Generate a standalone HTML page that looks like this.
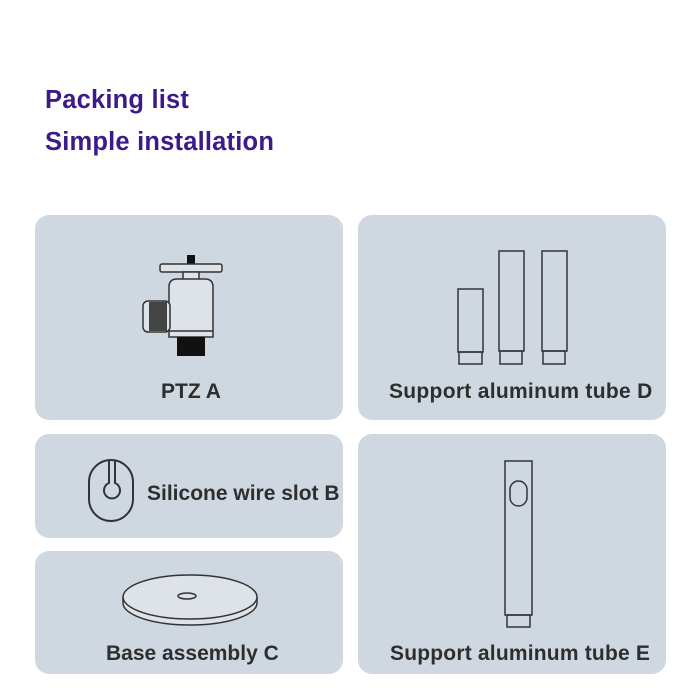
<!DOCTYPE html>
<html><head><style>
body{margin:0;width:700px;height:700px;background:#fff;position:relative;overflow:hidden;font-family:"Liberation Sans",sans-serif}
.t{position:absolute;left:45px;color:#3d1a8a;font-weight:bold;font-size:25.5px;letter-spacing:0.2px}
.c{position:absolute;background:#cfd8e1;border-radius:14px}
.l{position:absolute;font-weight:bold;font-size:21px;color:#2e2e2e;white-space:nowrap}
svg{position:absolute;left:0;top:0}
</style></head><body>
<div class="t" style="top:86px">Packing list</div>
<div class="t" style="top:128px">Simple installation</div>
<div class="c" style="left:35px;top:215px;width:308px;height:205px"></div>
<div class="c" style="left:358px;top:215px;width:308px;height:205px"></div>
<div class="c" style="left:35px;top:434px;width:308px;height:104px"></div>
<div class="c" style="left:358px;top:434px;width:308px;height:240px"></div>
<div class="c" style="left:35px;top:551px;width:308px;height:123px"></div>
<div class="l" style="left:161px;top:380px">PTZ A</div>
<div class="l" style="left:389px;top:380px;letter-spacing:0.3px">Support aluminum tube D</div>
<div class="l" style="left:147px;top:482px">Silicone wire slot B</div>
<div class="l" style="left:106px;top:642px">Base assembly C</div>
<div class="l" style="left:390px;top:642px;letter-spacing:0.2px">Support aluminum tube E</div>
<svg width="700" height="700" fill="none" stroke="#333" stroke-width="1.5">
<rect x="187" y="255" width="8" height="9" fill="#111" stroke="none"/>
<rect x="160" y="264" width="62" height="8" rx="2" fill="#dde3e9"/>
<rect x="183" y="272" width="16" height="8" fill="#dde3e9"/>
<path d="M169 337V287q0-8 8-8h28q8 0 8 8v50z" fill="#dde3e9"/>
<line x1="169" y1="331" x2="213" y2="331"/>
<rect x="177" y="337" width="28" height="19" fill="#111" stroke="none"/>
<rect x="143" y="301" width="27" height="31" rx="5" fill="#dde3e9"/>
<rect x="149" y="302" width="18" height="29" fill="#444" stroke="none"/>
<rect x="458" y="289" width="25" height="63"/><rect x="459" y="352" width="23" height="12"/>
<rect x="499" y="251" width="25" height="100"/><rect x="500" y="351" width="22" height="13"/>
<rect x="542" y="251" width="25" height="100"/><rect x="543" y="351" width="22" height="13"/>
<rect x="505" y="461" width="27" height="154"/><rect x="507" y="615" width="23" height="12"/>
<rect x="510" y="481" width="17" height="25" rx="8.5"/>
<rect x="89" y="460" width="44" height="61" rx="22" stroke-width="2"/>
<path d="M109 460V483A8 8 0 1 0 115 483V460" stroke-width="2"/>
<path d="M123 597v6a67 22 0 0 0 134 0v-6" fill="#dde3e9"/>
<ellipse cx="190" cy="597" rx="67" ry="22" fill="#dde3e9"/>
<ellipse cx="187" cy="596" rx="9" ry="3"/>
</svg>
</body></html>
